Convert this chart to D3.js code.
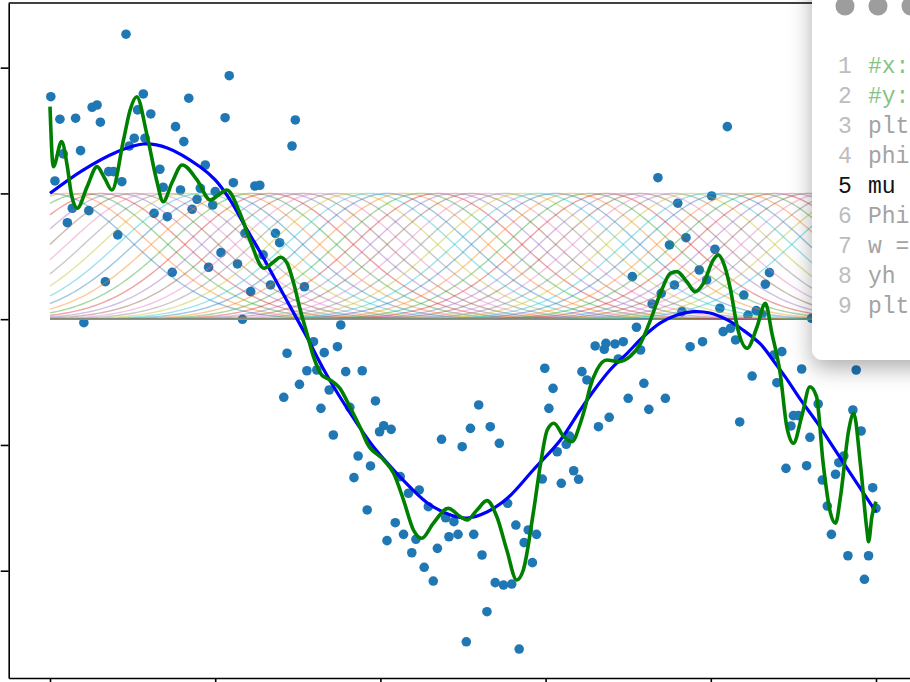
<!DOCTYPE html>
<html>
<head>
<meta charset="utf-8">
<script src="https://cdn.jsdelivr.net/npm/d3@7"></script>
<style>
  html, body { margin: 0; padding: 0; background: #ffffff; overflow: hidden; }
  svg { display: block; }
</style>
</head>
<body>
<svg id="chart" width="910" height="682"></svg>
<script>
// Observations (x, y)
const samples = [
  [0.092,2.266],[0.001,1.769],[0.113,1.791],[0.168,1.757],[0.217,1.936],
  [0.051,1.685],[0.057,1.703],[0.012,1.590],[0.031,1.598],[0.061,1.566],
  [0.106,1.664],[0.122,1.632],[0.152,1.531],[0.212,1.602],[0.297,1.584],
  [0.162,1.412],[0.293,1.377],[0.096,1.377],[0.102,1.439],[0.115,1.439],
  [0.016,1.314],[0.037,1.340],[0.133,1.192],[0.188,1.226],[0.071,1.173],
  [0.077,1.173],[0.006,1.099],[0.087,1.093],[0.137,1.049],[0.158,1.027],
  [0.182,1.041],[0.222,1.085],[0.248,1.059],[0.254,1.065],[0.200,1.014],
  [0.178,0.953],[0.027,0.882],[0.047,0.863],[0.172,0.874],[0.197,0.908],
  [0.126,0.842],[0.142,0.815],[0.021,0.767],[0.082,0.670],[0.236,0.683],
  [0.273,0.683],[0.278,0.608],[0.207,0.529],[0.258,0.511],[0.227,0.439],
  [0.192,0.413],[0.148,0.373],[0.067,0.298],[0.267,0.272],[0.243,0.219],
  [0.308,0.258],[0.041,-0.028],[0.233,-0.001],[0.352,-0.046],[0.287,-0.271],
  [0.311,-0.410],[0.302,-0.518],[0.283,-0.621],[0.319,-0.179],[0.348,-0.219],
  [0.332,-0.266],[0.323,-0.404],[0.338,-0.563],[0.358,-0.417],[0.378,-0.410],
  [0.328,-0.709],[0.343,-0.921],[0.363,-0.701],[0.394,-0.650],[0.404,-0.847],
  [0.399,-0.895],[0.413,-0.876],[0.373,-1.088],[0.368,-1.260],[0.388,-1.167],
  [0.384,-1.517],[0.424,-1.252],[0.434,-1.384],[0.447,-1.358],[0.458,-1.491],
  [0.418,-1.618],[0.428,-1.711],[0.408,-1.761],[0.443,-1.750],[0.438,-1.857],
  [0.469,-1.822],[0.453,-1.973],[0.464,-2.082],[0.474,-0.955],[0.479,-1.579],
  [0.489,-1.610],[0.483,-1.730],[0.494,-1.711],[0.499,-1.014],[0.509,-0.868],
  [0.519,-0.682],[0.533,-0.855],[0.544,-0.987],[0.513,-1.711],[0.523,-1.875],
  [0.554,-1.464],[0.564,-1.637],[0.579,-1.676],[0.589,-1.711],[0.574,-1.777],
  [0.584,-1.936],[0.539,-2.095],[0.549,-2.114],[0.559,-2.106],[0.529,-2.326],
  [0.504,-2.565],[0.568,-2.623],[0.599,-0.390],[0.609,-0.550],[0.604,-0.709],
  [0.596,-1.271],[0.614,-1.054],[0.619,-1.305],[0.625,-0.995],[0.629,-0.929],
  [0.634,-1.205],[0.640,-1.273],[0.644,-0.417],[0.650,-0.483],[0.660,-0.213],
  [0.671,-0.239],[0.673,-0.192],[0.664,-0.855],[0.677,-0.780],[0.684,-0.197],
  [0.694,-0.179],[0.688,-0.316],[0.715,-0.245],[0.820,1.531],[0.736,1.125],
  [0.760,0.922],[0.801,0.980],[0.770,0.648],[0.750,0.590],[0.805,0.556],
  [0.705,0.338],[0.786,0.391],[0.756,0.272],[0.795,0.312],[0.740,0.206],
  [0.729,0.121],[0.871,0.370],[0.866,0.278],[0.840,0.192],[0.811,0.087],
  [0.845,0.031],[0.855,0.068],[0.862,0.041],[0.765,0.060],[0.710,-0.064],
  [0.815,-0.099],[0.824,-0.072],[0.830,-0.165],[0.775,-0.219],[0.790,-0.179],
  [0.876,-0.285],[0.886,-0.258],[0.910,-0.396],[0.976,-0.404],[0.850,-0.452],
  [0.922,0.007],[0.880,-0.505],[0.719,-0.510],[0.700,-0.629],[0.745,-0.629],
  [0.725,-0.717],[0.835,-0.817],[0.930,-0.674],[0.900,-0.767],[0.906,-0.767],
  [0.897,-0.849],[0.972,-0.722],[0.982,-0.889],[0.920,-0.939],[0.961,-1.088],
  [0.955,-1.141],[0.891,-1.186],[0.916,-1.165],[0.935,-1.279],[0.951,-1.233],
  [0.996,-1.340],[1.000,-1.504],[0.941,-1.486],[0.946,-1.711],[0.966,-1.881],
  [0.991,-1.881],[0.986,-2.068]
];

// Smooth underlying function (blue)
const trueCurve = [
  [0.000,1.001],[0.040,1.186],[0.081,1.330],[0.113,1.393],[0.142,1.362],
  [0.182,1.210],[0.200,1.107],[0.218,0.948],[0.236,0.741],[0.255,0.526],
  [0.273,0.312],[0.291,0.097],[0.309,-0.118],[0.331,-0.396],[0.351,-0.619],
  [0.372,-0.833],[0.388,-0.984],[0.406,-1.127],[0.424,-1.255],[0.457,-1.461],
  [0.485,-1.557],[0.505,-1.581],[0.529,-1.533],[0.554,-1.422],[0.585,-1.199],
  [0.618,-0.960],[0.642,-0.722],[0.658,-0.571],[0.678,-0.404],[0.699,-0.269],
  [0.718,-0.142],[0.739,-0.030],[0.759,0.033],[0.779,0.060],[0.799,0.049],
  [0.820,-0.006],[0.839,-0.086],[0.860,-0.197],[0.876,-0.332],[0.891,-0.467],
  [0.908,-0.634],[0.929,-0.825],[0.948,-1.016],[0.972,-1.255],[1.000,-1.533]
];

// Least-squares fit on the Gaussian basis (green)
const fitCurve = [
  [0.000,1.690],[0.004,1.213],[0.014,1.412],[0.021,1.213],[0.026,0.988],
  [0.033,0.882],[0.045,1.054],[0.057,1.213],[0.066,1.123],[0.075,1.027],
  [0.089,1.425],[0.097,1.664],[0.105,1.769],[0.117,1.478],[0.129,1.107],
  [0.137,0.934],[0.148,1.091],[0.160,1.226],[0.178,1.107],[0.194,0.948],
  [0.204,0.988],[0.214,1.027],[0.230,0.842],[0.242,0.630],[0.259,0.405],
  [0.271,0.457],[0.279,0.492],[0.287,0.445],[0.295,0.285],[0.303,0.073],
  [0.311,-0.112],[0.319,-0.298],[0.329,-0.444],[0.339,-0.483],[0.351,-0.550],
  [0.363,-0.696],[0.376,-0.868],[0.384,-0.987],[0.404,-1.120],[0.416,-1.225],
  [0.428,-1.438],[0.440,-1.676],[0.450,-1.742],[0.464,-1.623],[0.482,-1.504],
  [0.497,-1.571],[0.505,-1.597],[0.517,-1.517],[0.529,-1.443],[0.541,-1.571],
  [0.553,-1.835],[0.565,-2.074],[0.573,-1.994],[0.585,-1.544],[0.594,-1.146],
  [0.602,-0.881],[0.610,-0.828],[0.622,-0.934],[0.632,-0.974],[0.642,-0.828],
  [0.648,-0.696],[0.654,-0.537],[0.662,-0.404],[0.674,-0.324],[0.688,-0.338],
  [0.702,-0.298],[0.715,-0.192],[0.727,-0.006],[0.739,0.206],[0.751,0.365],
  [0.759,0.378],[0.771,0.298],[0.781,0.219],[0.791,0.285],[0.803,0.471],
  [0.809,0.511],[0.817,0.417],[0.824,0.232],[0.832,-0.060],[0.844,-0.231],
  [0.856,-0.060],[0.866,0.126],[0.874,-0.112],[0.884,-0.430],[0.892,-0.855],
  [0.900,-0.987],[0.910,-0.775],[0.920,-0.537],[0.928,-0.616],[0.936,-1.146],
  [0.945,-1.544],[0.951,-1.623],[0.957,-1.412],[0.967,-0.881],[0.973,-0.748],
  [0.981,-1.146],[0.989,-1.676],[0.991,-1.769],[0.995,-1.571],[1.000,-1.451]
];

// Gaussian basis functions: centres and common width
const basisCenters = [
  0.0000,0.0204,0.0408,0.0612,0.0816,0.1020,0.1224,0.1429,0.1633,0.1837,
  0.2041,0.2245,0.2449,0.2653,0.2857,0.3061,0.3265,0.3469,0.3673,0.3878,
  0.4082,0.4286,0.4490,0.4694,0.4898,0.5102,0.5306,0.5510,0.5714,0.5918,
  0.6122,0.6327,0.6531,0.6735,0.6939,0.7143,0.7347,0.7551,0.7755,0.7959,
  0.8163,0.8367,0.8571,0.8776,0.8980,0.9184,0.9388,0.9592,0.9796,1.0000
];
const basisWidth = 0.1;

const xTicks = [0, 0.2, 0.4, 0.6, 0.8, 1.0];
const yTicks = [-2, -1, 0, 1, 2];

// Editor panel: the part of each code line that fits in the panel
const codeLines = ["#x:", "#y:", "plt", "phi", "mu", "Phi", "w =", "yh", "plt"];
const activeLine = 5;

const svg = d3.select("#chart");

const x = d3.scaleLinear().domain([-0.05, 1.05]).range([8.7, 917.3]);
const y = d3.scaleLinear().domain([-2.853, 2.514]).range([678, 3]);

const defs = svg.append("defs");
defs.append("clipPath").attr("id", "plotArea")
  .append("rect")
  .attr("x", x(-0.05)).attr("y", y(2.514))
  .attr("width", x(1.05) - x(-0.05)).attr("height", y(-2.853) - y(2.514));

const shadow = defs.append("filter").attr("id", "panelShadow")
  .attr("x", "-60%").attr("y", "-30%").attr("width", "220%").attr("height", "160%");
shadow.append("feDropShadow")
  .attr("dx", 0).attr("dy", 8).attr("stdDeviation", 11)
  .attr("flood-color", "#000").attr("flood-opacity", 0.32);

const plot = svg.append("g").attr("clip-path", "url(#plotArea)");

// scatter
plot.append("g").selectAll("circle").data(samples).join("circle")
  .attr("cx", d => x(d[0]))
  .attr("cy", d => y(d[1]))
  .attr("r", 4.8)
  .attr("fill", "#1f77b4");

// basis functions
const gridX = d3.range(0, 1.0001, 0.004);
const basisLine = d3.line().x(d => x(d[0])).y(d => y(d[1]));
const palette = d3.schemeCategory10;
plot.append("g").selectAll("path").data(basisCenters).join("path")
  .attr("d", mu => basisLine(gridX.map(t => [t, Math.exp(-((t - mu) ** 2) / (2 * basisWidth ** 2))])))
  .attr("fill", "none")
  .attr("stroke", (mu, i) => palette[i % 10])
  .attr("stroke-width", 1.4)
  .attr("stroke-opacity", 0.42);

// true function
plot.append("path")
  .attr("d", d3.line().x(d => x(d[0])).y(d => y(d[1])).curve(d3.curveCatmullRom.alpha(0.5))(trueCurve))
  .attr("fill", "none")
  .attr("stroke", "#0000ff")
  .attr("stroke-width", 3.2);

// fitted curve
plot.append("path")
  .attr("d", d3.line().x(d => x(d[0])).y(d => y(d[1])).curve(d3.curveMonotoneX)(fitCurve))
  .attr("fill", "none")
  .attr("stroke", "#008000")
  .attr("stroke-width", 3.6)
  .attr("stroke-linejoin", "round");

// axes / spines
const styleAxis = g => {
  g.selectAll(".domain").attr("stroke", "#000").attr("stroke-width", 1.6);
  g.selectAll(".tick line").attr("stroke", "#000").attr("stroke-width", 1.6);
};
svg.append("g")
  .attr("transform", `translate(${x(-0.05)},0)`)
  .call(d3.axisLeft(y).tickValues(yTicks).tickFormat("").tickSize(8).tickSizeOuter(0))
  .call(styleAxis);
svg.append("g")
  .attr("transform", `translate(0,${y(-2.853)})`)
  .call(d3.axisBottom(x).tickValues(xTicks).tickFormat("").tickSize(8).tickSizeOuter(0))
  .call(styleAxis);
svg.append("line")
  .attr("x1", x(-0.05)).attr("x2", x(1.05))
  .attr("y1", y(2.514)).attr("y2", y(2.514))
  .attr("stroke", "#000").attr("stroke-width", 1.6);

// editor panel
const panel = svg.append("g");
panel.append("rect")
  .attr("x", 812).attr("y", -40).attr("width", 170).attr("height", 400)
  .attr("rx", 11).attr("ry", 11)
  .attr("fill", "#ffffff")
  .attr("filter", "url(#panelShadow)");
panel.selectAll("circle.btn").data([845, 878, 911]).join("circle")
  .attr("class", "btn")
  .attr("cx", d => d).attr("cy", 6).attr("r", 9.5)
  .attr("fill", "#9d9d9d");

const codeFont = "'Liberation Mono', 'Courier New', 'DejaVu Sans Mono', monospace";
const lineColor = (i) => (i + 1 === activeLine) ? "#111111" : (i < 2 ? "#86c386" : "#a3a3a3");
const rows = panel.selectAll("g.row").data(codeLines).join("g")
  .attr("class", "row")
  .attr("transform", (d, i) => `translate(0,${73 + i * 30})`);
rows.append("text")
  .attr("x", 838).attr("y", 0)
  .attr("font-family", codeFont).attr("font-size", 23)
  .attr("fill", (d, i) => (i + 1 === activeLine) ? "#111111" : "#bdbdbd")
  .text((d, i) => String(i + 1));
rows.append("text")
  .attr("x", 868).attr("y", 0)
  .attr("font-family", codeFont).attr("font-size", 23)
  .attr("fill", (d, i) => lineColor(i))
  .text(d => d);
</script>
</body>
</html>
